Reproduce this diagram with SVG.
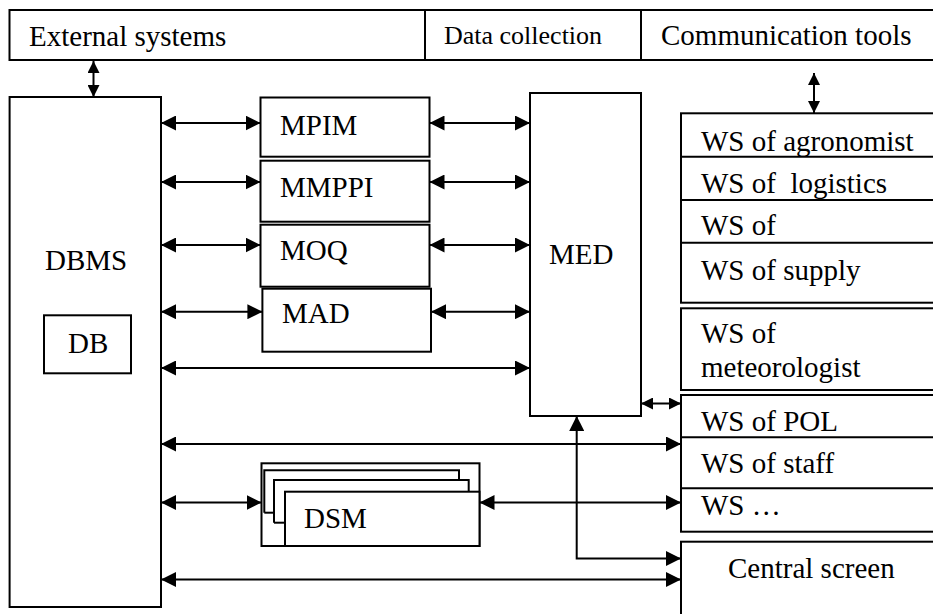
<svg xmlns="http://www.w3.org/2000/svg" width="933" height="614" viewBox="0 0 933 614">
<style>
rect { fill: #fff; stroke: #000; stroke-width: 2; }
.div { stroke: #000; stroke-width: 2; fill: none; }
.c { stroke: #000; stroke-width: 2; fill: none; }
.a { marker-start: url(#ah); marker-end: url(#ah); }
.s { marker-start: url(#sh); marker-end: url(#sh); }
text { font-size: 29px; fill: #000; white-space: pre; }
.sm { font-size: 26px; }
</style>
<defs>
<marker id="ah" viewBox="0 0 15 15" refX="15" refY="7.5" markerWidth="15" markerHeight="15" markerUnits="userSpaceOnUse" orient="auto-start-reverse">
<path d="M0,0 L15,7.5 L0,15 z" fill="#000"/>
</marker>
<marker id="sh" viewBox="0 0 12 12" refX="12" refY="6" markerWidth="12" markerHeight="12" markerUnits="userSpaceOnUse" orient="auto-start-reverse">
<path d="M0,0 L12,6 L0,12 z" fill="#000"/>
</marker>
</defs>
<g font-family="'Liberation Serif', 'DejaVu Serif', serif">
<g id="header">
<rect x="9.5" y="10" width="940" height="50"/>
<line class="div" x1="425" y1="10" x2="425" y2="60"/>
<line class="div" x1="641" y1="10" x2="641" y2="60"/>
<text x="29" y="46">External systems</text>
<text class="sm" x="444" y="44">Data collection</text>
<text x="661" y="45">Communication tools</text>
</g>

<g id="dbms">
<rect x="9.6" y="97" width="151.4" height="510"/>
<text x="45" y="270">DBMS</text>
</g>
<g id="db">
<rect x="44" y="315.3" width="87" height="58"/>
<text x="68" y="352.7">DB</text>
</g>

<g id="mpim">
<rect x="260.5" y="97.5" width="169" height="59.2"/>
<text x="280" y="135">MPIM</text>
</g>
<g id="mmppi">
<rect x="260.5" y="160.7" width="169" height="61"/>
<text x="280" y="197.3">MMPPI</text>
</g>
<g id="moq">
<rect x="260.5" y="224.7" width="169" height="62"/>
<text x="280" y="260">MOQ</text>
</g>
<g id="mad">
<rect x="262.4" y="288.7" width="168.6" height="63"/>
<text x="282" y="323.3">MAD</text>
</g>

<g id="med">
<rect x="530" y="93" width="111" height="323"/>
<text x="549" y="264">MED</text>
</g>

<g id="dsm">
<rect x="261.5" y="463.3" width="218" height="82.7"/>
<path class="div" d="M264.3,512.7 V470.3 H459 V480"/>
<path class="div" d="M264.3,512.7 H274"/>
<path class="div" d="M274,522.7 V480 H468.7 V491.7"/>
<path class="div" d="M274,522.7 H285"/>
<rect x="285" y="491.7" width="194.5" height="54.3"/>
<text x="304" y="528">DSM</text>
</g>

<g id="ws-group1">
<rect x="681" y="113.3" width="260" height="189.4"/>
<line class="div" x1="681" y1="156.7" x2="941" y2="156.7"/>
<line class="div" x1="681" y1="200" x2="941" y2="200"/>
<line class="div" x1="681" y1="242.7" x2="941" y2="242.7"/>
<text x="701" y="150.7">WS of agronomist</text>
<text x="701" y="193.3">WS of  logistics</text>
<text x="701" y="235">WS of</text>
<text x="701" y="280">WS of supply</text>
</g>

<g id="ws-meteorologist">
<rect x="681" y="308.3" width="260" height="81.7"/>
<text x="701" y="343">WS of</text>
<text x="701" y="376.7">meteorologist</text>
</g>

<g id="ws-group3">
<rect x="681" y="395" width="260" height="136.7"/>
<line class="div" x1="681" y1="437.3" x2="941" y2="437.3"/>
<line class="div" x1="681" y1="488.3" x2="941" y2="488.3"/>
<text x="701" y="430.7">WS of POL</text>
<text x="701" y="473.3">WS of staff</text>
<text x="701" y="515">WS …</text>
</g>

<g id="central-screen">
<rect x="681" y="541.7" width="260" height="90"/>
<text x="728" y="578.3">Central screen</text>
</g>
</g>
<g id="connectors">
<line class="c s" x1="93.5" y1="61" x2="93.5" y2="97"/>
<line class="c s" x1="814" y1="73" x2="814" y2="113"/>
<line class="c a" x1="161" y1="123" x2="260.5" y2="123"/>
<line class="c a" x1="429.5" y1="123" x2="530" y2="123"/>
<line class="c a" x1="161" y1="182" x2="260.5" y2="182"/>
<line class="c a" x1="429.5" y1="182" x2="530" y2="182"/>
<line class="c a" x1="161" y1="245" x2="260.5" y2="245"/>
<line class="c a" x1="429.5" y1="245" x2="530" y2="245"/>
<line class="c a" x1="161" y1="311.7" x2="262.4" y2="311.7"/>
<line class="c a" x1="431" y1="311.7" x2="530" y2="311.7"/>
<line class="c a" x1="161" y1="368" x2="530" y2="368"/>
<line class="c s" x1="641" y1="403.5" x2="681" y2="403.5"/>
<line class="c a" x1="161" y1="444" x2="681" y2="444"/>
<line class="c a" x1="161" y1="502.5" x2="261.5" y2="502.5"/>
<line class="c a" x1="479.5" y1="502.5" x2="681" y2="502.5"/>
<path class="c a" d="M576.7,416 V558.5 H681"/>
<line class="c a" x1="161" y1="579.5" x2="681" y2="579.5"/>
</g>
</svg>
